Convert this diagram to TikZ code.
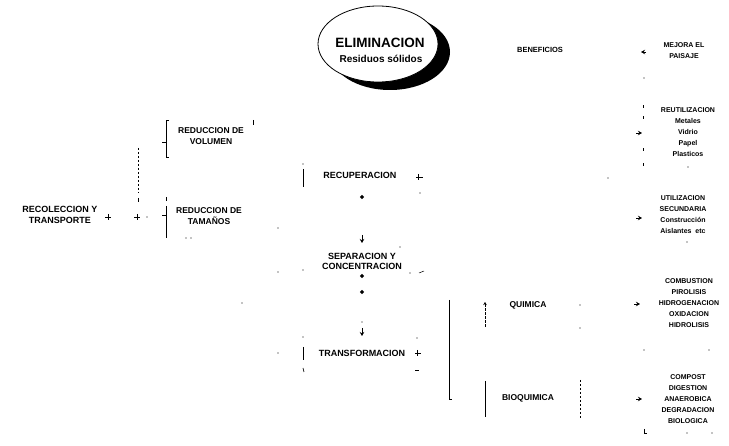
\documentclass[tikz,border=0pt]{standalone}
\usepackage{fontspec}
\setmainfont{Liberation Sans}
\usetikzlibrary{arrows.meta,shapes.geometric}
\begin{document}
\begin{tikzpicture}[x=1pt,y=-1pt,
  lblm/.style={font=\bfseries\fontsize{9}{10}\selectfont, align=center, inner sep=0pt},
  lbll/.style={font=\bfseries\fontsize{8.5}{11}\selectfont, align=center, inner sep=0pt},
  lblr/.style={font=\bfseries\fontsize{7}{11}\selectfont, align=center, inner sep=0pt},
  frag/.style={line width=0.7pt},
  dfrag/.style={line width=0.5pt, dash pattern=on 2.5pt off 1.5pt},
  tipd/.style={-{Stealth[length=4pt,width=4.5pt]}, line width=0.7pt},
  dia/.style={diamond, fill, inner sep=0pt, minimum size=4.5pt},
  pt/.style={circle, fill, inner sep=0pt, minimum size=1.4pt},
]
\useasboundingbox (0,0) rectangle (729,446);

% ---- ellipse with shadow ----
\fill (390,52) ellipse [x radius=60, y radius=38];
\node[ellipse, draw, line width=0.8pt, fill=white, minimum width=120pt, minimum height=76pt] (elim) at (378,44) {};
\node[font=\bfseries\fontsize{13.5}{15}\selectfont, inner sep=0pt] (elimt) at (380,43) {ELIMINACION};
\node[font=\bfseries\fontsize{10}{12}\selectfont, inner sep=0pt] (resid) at (381,59) {Residuos sólidos};

% ---- labels ----
\node[lbll, font=\bfseries\fontsize{9}{10.5}\selectfont] (reco) at (60,215) {RECOLECCION Y\\TRANSPORTE};
\node[lbll] (redvol) at (211,136) {REDUCCION DE\\VOLUMEN};
\node[lbll] (redtam) at (209,216) {REDUCCION DE\\TAMAÑOS};
\node[lblm] (recup) at (360,175) {RECUPERACION};
\node[lblm] (sep) at (362,261) {SEPARACION Y\\CONCENTRACION};
\node[lblm] (transf) at (362,353) {TRANSFORMACION};
\node[lbll] (quim) at (528,305) {QUIMICA};
\node[lbll] (bioq) at (528,398) {BIOQUIMICA};
\node[font=\bfseries\fontsize{7.5}{9}\selectfont, inner sep=0pt] (benef) at (540,50) {BENEFICIOS};
\node[lblr] (mejora) at (684,51) {MEJORA EL\\PAISAJE};
\node[lblr] (reut) at (688,132.5) {REUTILIZACION\\Metales\\Vidrio\\Papel\\Plasticos};
\node[lblr] (util) at (683,215) {UTILIZACION\\SECUNDARIA\\Construcción\\Aislantes \ etc};
\node[lblr] (comb) at (689,303) {COMBUSTION\\PIROLISIS\\HIDROGENACION\\OXIDACION\\HIDROLISIS};
\node[lblr] (comp) at (688,399) {COMPOST\\DIGESTION\\ANAEROBICA\\DEGRADACION\\BIOLOGICA};

% ---- left fragments ----
\coordinate (pA1) at (105,217); \coordinate (pA2) at (111,217);
\coordinate (pA3) at (108,214); \coordinate (pA4) at (108,220);
\draw[frag] (pA1) -- (pA2) (pA3) -- (pA4);
\coordinate (pB1) at (134,217); \coordinate (pB2) at (140,217);
\coordinate (pB3) at (137,214); \coordinate (pB4) at (137,220);
\draw[frag] (pB1) -- (pB2) (pB3) -- (pB4);
\node[pt] (d1) at (147,217) {};
\coordinate (v1a) at (138,148); \coordinate (v1b) at (138,193);
\draw[dfrag] (v1a) -- (v1b);
\coordinate (v1c) at (138,198); \coordinate (v1d) at (138,202);
\draw[frag, line width=0.5pt] (v1c) -- (v1d);
% bracket volumen
\coordinate (bv1) at (169,120); \coordinate (bv2) at (166,120);
\coordinate (bv3) at (166,157); \coordinate (bv4) at (169,157);
\coordinate (bv5) at (162,142);
\draw[frag] (bv1) -- (bv2) -- (bv3) -- (bv4);
\draw[frag] (bv5) -- (bv2 |- bv5);
% bracket tamanos
\coordinate (bt0) at (166,197); \coordinate (bt0b) at (166,201);
\coordinate (bt1) at (166,206); \coordinate (bt2) at (166,238);
\coordinate (bt3) at (162,215);
\draw[frag] (bt0) -- (bt0b) (bt1) -- (bt2);
\draw[frag] (bt3) -- (bt1 |- bt3);
\coordinate (m1a) at (253,120); \coordinate (m1b) at (253,125);
\draw[frag, line width=0.5pt] (m1a) -- (m1b);
\node[pt] at (186,238) {}; \node[pt] at (191,238) {};
\node[pt] at (278,228) {}; \node[pt] at (278,272) {};
\node[pt] at (278,353) {}; \node[pt] at (242,303) {};

% ---- middle fragments ----
\node[pt] at (303,164) {};
\coordinate (r1a) at (303,169); \coordinate (r1b) at (303,187);
\draw[frag] (r1a) -- (r1b);
\coordinate (r2a) at (416,177); \coordinate (r2b) at (423,177);
\coordinate (r2c) at (418,174); \coordinate (r2d) at (418,180);
\draw[frag] (r2a) -- (r2b) (r2c) -- (r2d);
\node[pt] at (420,193) {};
\node[dia] (a1) at (362,197) {};
\coordinate (a2s) at (362,235); \coordinate (a2e) at (362,243);
\draw[tipd] (a2s) -- (a2e);
\node[dia] (a3) at (362,276) {};
\node[dia] (a4) at (362,292) {};
\node[pt] at (362,322) {};
\coordinate (a5s) at (362,328); \coordinate (a5e) at (362,336);
\draw[tipd] (a5s) -- (a5e);
\node[pt] at (303,270) {}; \node[pt] at (400,247) {};
\node[pt] at (410,273) {};
\coordinate (s1a) at (419,273); \coordinate (s1b) at (424,271);
\draw[frag, line width=0.5pt] (s1a) -- (s1b);
\node[pt] at (303,337) {};
\coordinate (t1a) at (303,347); \coordinate (t1b) at (303,360);
\draw[frag] (t1a) -- (t1b);
\coordinate (t2a) at (303,368); \coordinate (t2b) at (304,372);
\draw[frag] (t2a) -- (t2b);
\node[pt] at (417,338) {};
\coordinate (t3a) at (415,353); \coordinate (t3b) at (421,353);
\coordinate (t3c) at (417,350); \coordinate (t3d) at (417,356);
\draw[frag] (t3a) -- (t3b) (t3c) -- (t3d);
\coordinate (t4a) at (415,370); \coordinate (t4b) at (419,370);
\draw[frag] (t4a) -- (t4b);

% ---- quimica / bioquimica ----
\coordinate (q1a) at (449,300); \coordinate (q1b) at (449,400); \coordinate (q1c) at (452,400);
\draw[line width=1pt] (q1a) -- (q1b) -- (q1c);
\coordinate (q2a) at (485,327); \coordinate (q2b) at (485,302);
\draw[dfrag, -{Stealth[length=3pt,width=3.5pt]}] (q2a) -- (q2b);
\coordinate (q3a) at (485,381); \coordinate (q3b) at (485,417);
\draw[frag] (q3a) -- (q3b);
\node[pt] at (580,305) {}; \node[pt] at (580,328) {};
\coordinate (q4a) at (580,380); \coordinate (q4b) at (580,420);
\draw[dfrag] (q4a) -- (q4b);

% ---- right column fragments ----
\coordinate (b1s) at (646,52); \coordinate (b1e) at (641,52);
\draw[tipd] (b1s) -- (b1e);
\node[pt] at (644,78) {};
\foreach \yy in {107,118,150,165} {\draw[line width=0.5pt] (643,\yy-1.5) -- (643,\yy+1.5);}
\coordinate (b2s) at (636,133); \coordinate (b2e) at (642,133);
\draw[tipd] (b2s) -- (b2e);
\node[pt] at (688,167) {}; \node[pt] at (608,178) {};
\coordinate (b3s) at (636,218); \coordinate (b3e) at (642,218);
\draw[tipd] (b3s) -- (b3e);
\node[pt] at (687,242) {};
\coordinate (b4s) at (634,304); \coordinate (b4e) at (640,304);
\draw[tipd] (b4s) -- (b4e);
\node[pt] at (644,350) {}; \node[pt] at (709,350) {};
\coordinate (b5s) at (636,399); \coordinate (b5e) at (642,399);
\draw[tipd] (b5s) -- (b5e);
\coordinate (b6a) at (644,429); \coordinate (b6b) at (644,433); \coordinate (b6c) at (647,433);
\draw[frag] (b6a) -- (b6b) -- (b6c);
\node[pt] at (687,433) {}; \node[pt] at (712,433) {};
\end{tikzpicture}
\end{document}
